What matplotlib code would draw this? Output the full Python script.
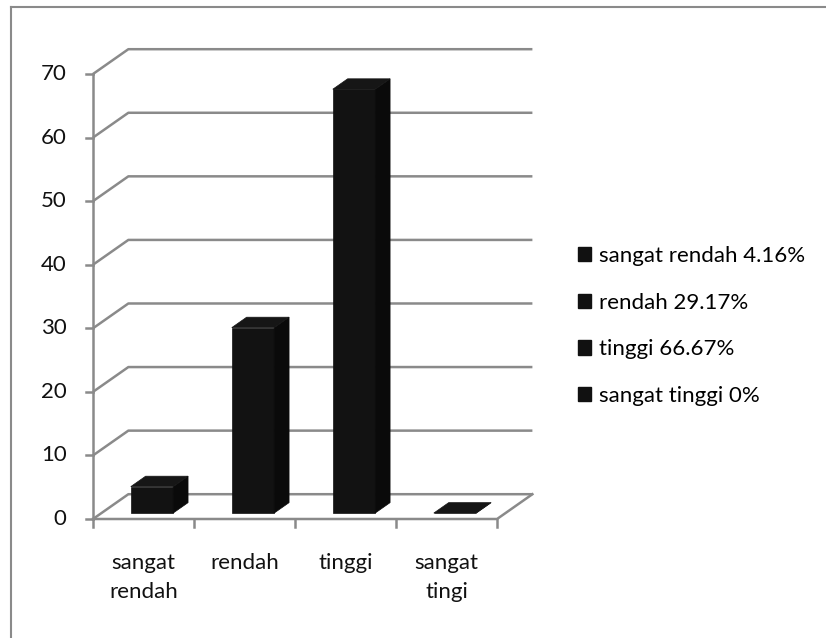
import matplotlib

matplotlib.use("Agg")
import matplotlib.pyplot as plt
from matplotlib.lines import Line2D
from matplotlib.patches import Patch, Polygon

categories = ["sangat\nrendah", "rendah", "tinggi", "sangat\ntingi"]
values = [4.16, 29.17, 66.67, 0]
legend_labels = ["sangat rendah 4.16%", "rendah 29.17%", "tinggi 66.67%", "sangat tinggi 0%"]
y_ticks = [0, 10, 20, 30, 40, 50, 60, 70]

plt.rcParams["font.family"] = ["Lato", "DejaVu Sans"]

GRID = "#8a8a8a"
FS = 16

# oblique 3d: full depth shifts by DX categories and DY value units
DX, DY = 0.35, 3.9
D0, D1 = 0.24, 0.66
WIDTH = 0.42


def proj(x, v, d):
    return x + d * DX, v + d * DY


fig = plt.figure(figsize=(8.26, 6.38), dpi=100)
W, H = 826, 638
ax = fig.add_axes([93 / W, (H - 519) / H, (532.4 - 93) / W, (519 - 49.2) / H])
n = len(categories)
ax.set_xlim(0, n + DX)
ax.set_ylim(0, y_ticks[-1] + DY)
ax.set_axis_off()

# back wall gridlines + left wall diagonals
for v in y_ticks:
    xs, ys = zip(proj(0, v, 0), proj(0, v, 1), proj(n, v, 1))
    ax.plot(xs, ys, color=GRID, lw=1.8, clip_on=False, zorder=1, solid_capstyle="butt")
    ax.plot([-0.07, 0], [v, v], color=GRID, lw=1.8, clip_on=False, zorder=1)
    ax.text(-0.26, v, str(v), ha="right", va="center", fontsize=FS, color="#111111")

# y axis and floor
ax.plot([0, 0], [0, y_ticks[-1]], color=GRID, lw=1.8, clip_on=False, zorder=1)
xs, ys = zip(proj(0, 0, 0), proj(n, 0, 0), proj(n, 0, 1))
ax.plot(xs, ys, color=GRID, lw=1.8, clip_on=False, zorder=1)
for i in range(n + 1):
    ax.plot([i, i], [0, -1.3], color=GRID, lw=1.8, clip_on=False, zorder=1)

# bars
for i, (h, lab) in enumerate(zip(values, categories)):
    x0, x1 = i + 0.5 - WIDTH / 2, i + 0.5 + WIDTH / 2
    front = [proj(x0, 0, D0), proj(x1, 0, D0), proj(x1, h, D0), proj(x0, h, D0)]
    side = [proj(x1, 0, D0), proj(x1, 0, D1), proj(x1, h, D1), proj(x1, h, D0)]
    top = [proj(x0, h, D0), proj(x1, h, D0), proj(x1, h, D1), proj(x0, h, D1)]
    for pts, col in ((front, "#121212"), (side, "#0a0a0a"), (top, "#161616")):
        ax.add_patch(Polygon(pts, closed=True, facecolor=col, edgecolor=col, lw=0.5,
                             clip_on=False, zorder=3))
    ax.text(i + 0.5, -5.4, lab, ha="center", va="top", fontsize=FS, color="#111111",
            linespacing=1.55)

handles = [Patch(facecolor="#111111", edgecolor="#111111") for _ in legend_labels]
fig.legend(handles, legend_labels, loc="center left", bbox_to_anchor=(578 / W, 1 - 326 / H),
           frameon=False, fontsize=FS, handlelength=0.6, handleheight=0.6,
           handletextpad=0.35, labelspacing=1.2, borderpad=0, borderaxespad=0)

# chart frame (right and bottom edges fall outside the image)
fig.add_artist(Line2D([11 / W, 1], [1 - 7 / H, 1 - 7 / H], color=GRID, lw=1.5))
fig.add_artist(Line2D([11 / W, 11 / W], [0, 1 - 7 / H], color=GRID, lw=1.5))

fig.savefig("out.png", dpi=100)
